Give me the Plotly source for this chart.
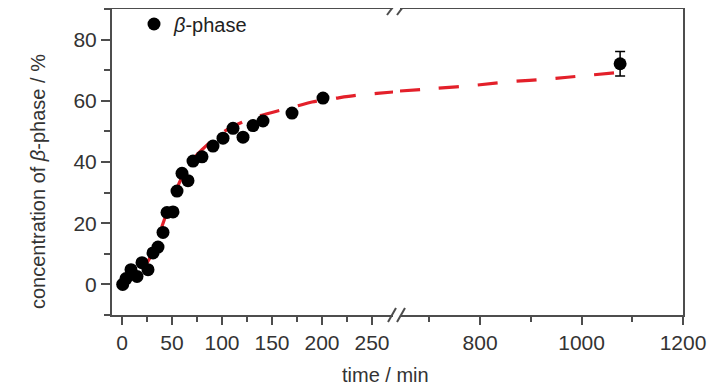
import plotly.graph_objects as go

# measured data (time in min, concentration in %)
t_left = [0.7, 4, 9, 15, 20, 26, 31, 36, 41, 45, 51, 55, 60, 66, 71, 80, 91, 101, 111, 121, 131, 141, 170, 201]
c_left = [0, 1.9, 4.8, 2.6, 7.1, 4.8, 10.3, 12.2, 17, 23.5, 23.7, 30.5, 36.3, 33.9, 40.3, 41.7, 45.2, 47.8, 51, 48.1, 51.9, 53.4, 56, 60.9]

t_right = [1076]
c_right = [72.1]
err_right = [4.0]

# fitted curve
fit_t_left = [25, 30, 35, 40, 45, 50, 55, 60, 70, 80, 90, 100, 110, 120, 130, 140, 150, 175, 190, 215, 235, 255, 275]
fit_c_left = [7, 10, 14, 19, 23.5, 27.5, 31.5, 35, 40.5, 44, 47, 49.5, 51.5, 53, 54.3, 55.3, 56.2, 58.3, 59.6, 60.9, 61.8, 62.4, 63.0]
fit_t_right = [642, 700, 778, 857, 938, 1017, 1100]
fit_c_right = [63.2, 63.9, 64.9, 66.2, 67.2, 68.4, 69.7]

left_ticks = [0, 50, 100, 150, 200, 250]
right_ticks = [800, 1000, 1200]
y_ticks = [0, 20, 40, 60, 80]

FONT = "Liberation Sans, Arial, sans-serif"
AX = "#4d4d4d"
TXT = "#333333"
RED = "#e3202a"

fig = go.Figure()
dash = "20px,19px"
fig.add_trace(go.Scatter(x=fit_t_left, y=fit_c_left, mode="lines", xaxis="x", yaxis="y",
                         line=dict(color=RED, width=3.2, dash=dash, shape="spline"), showlegend=False))
fig.add_trace(go.Scatter(x=fit_t_right, y=fit_c_right, mode="lines", xaxis="x2", yaxis="y2",
                         line=dict(color=RED, width=3.2, dash=dash, shape="spline"), showlegend=False))
fig.add_trace(go.Scatter(x=t_left, y=c_left, mode="markers", xaxis="x", yaxis="y", name="<i>β</i>-phase",
                         marker=dict(color="black", size=13, symbol="circle"), showlegend=True))
fig.add_trace(go.Scatter(x=t_right, y=c_right, mode="markers", xaxis="x2", yaxis="y2",
                         marker=dict(color="black", size=13),
                         error_y=dict(type="data", array=err_right, color="black", thickness=1.5, width=5),
                         showlegend=False))

W, H = 728, 390
OFF = 8  # page body margin in the browser
# plot area in reference pixels
PL, PR, PT, PB = 112, 683, 9, 315
pw, ph = PR - PL, PB - PT
L, T = PL - OFF, PT - OFF
R, B = W - (PR - OFF), H - (PB - OFF)

def px(x):
    return (x - PL) / pw

def py(y):
    return (PB - y) / ph

common_x = dict(showline=True, linecolor=AX, linewidth=2, mirror=True, ticks="outside",
                ticklen=8, tickwidth=2, tickcolor=AX, showgrid=False, zeroline=False,
                tickfont=dict(family=FONT, size=21, color=TXT))

fig.update_layout(
    width=W, height=H, margin=dict(l=L, r=R, t=T, b=B, autoexpand=False),
    paper_bgcolor="white", plot_bgcolor="white",
    xaxis=dict(domain=[0, px(393)], range=[-10, 271], tickvals=left_ticks,
               minor=dict(dtick=25, tick0=0, ticks="outside", ticklen=5, tickwidth=2, tickcolor=AX),
               anchor="y", **common_x),
    xaxis2=dict(domain=[px(400), 1], range=[642, 1200], tickvals=right_ticks,
                minor=dict(dtick=100, tick0=0, ticks="outside", ticklen=5, tickwidth=2, tickcolor=AX),
                anchor="y2", **common_x),
    yaxis=dict(range=[-10, 90], tickvals=y_ticks, anchor="x", showline=True, linecolor=AX, linewidth=2,
               ticks="outside", ticklen=9, tickwidth=2, tickcolor=AX, showgrid=False, zeroline=False,
               minor=dict(dtick=10, tick0=0, ticks="outside", ticklen=6, tickwidth=2, tickcolor=AX),
               tickfont=dict(family=FONT, size=21, color=TXT)),
    yaxis2=dict(range=[-10, 90], anchor="x2", side="right", showline=True, linecolor=AX, linewidth=2,
                showticklabels=False, ticks="", showgrid=False, zeroline=False),
    legend=dict(x=px(134), y=py(24), xanchor="left", yanchor="middle", bgcolor="rgba(0,0,0,0)",
                font=dict(family=FONT, size=20, color="#222222"), itemwidth=30),
    showlegend=True,
)

fig.add_annotation(text="time / min", x=px(385), y=py(375), xref="paper", yref="paper",
                   xanchor="center", yanchor="middle",
                   showarrow=False, font=dict(family=FONT, size=20, color=TXT))
fig.add_annotation(text="concentration of <i>β</i>-phase / %", x=px(38), y=py(182), xref="paper", yref="paper",
                   xanchor="center", yanchor="middle",
                   textangle=-90, showarrow=False, font=dict(family=FONT, size=20, color=TXT))

# axis-break marks
for (x0, y0, x1, y1) in [(388, 322, 396, 308), (397, 322, 405, 308), (387, 15, 396, 3), (397, 15, 406, 3)]:
    fig.add_shape(type="line", xref="paper", yref="paper", x0=px(x0), y0=py(y0), x1=px(x1), y1=py(y1),
                  line=dict(color=AX, width=2))

fig.write_html("out.html")
